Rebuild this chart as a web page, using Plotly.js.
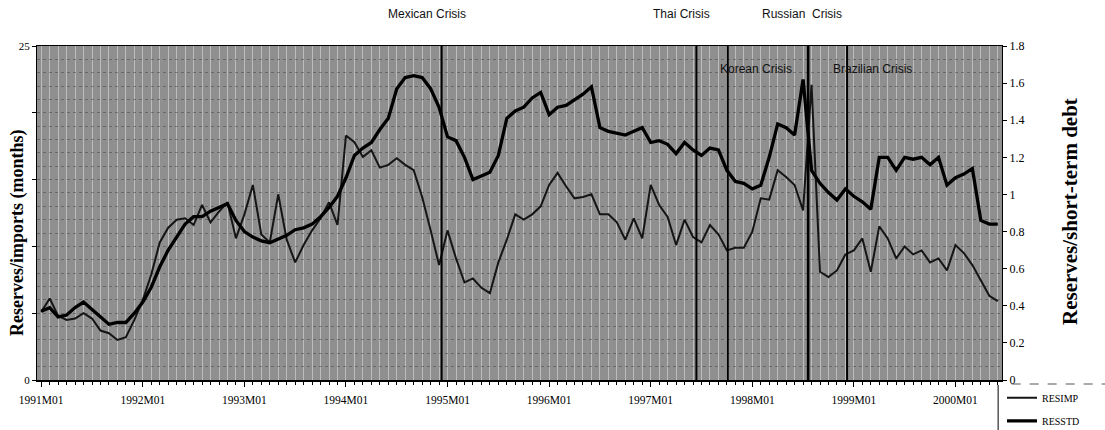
<!DOCTYPE html>
<html>
<head>
<meta charset="utf-8">
<script src="https://cdn.plot.ly/plotly-3.0.1.min.js"></script>
<style>
  html, body { margin: 0; padding: 0; background: #ffffff; }
  #chart { width: 1105px; height: 430px; }
</style>
</head>
<body>
<div id="chart"></div>
<script>
// ---- Data ----
const years = ['1991','1992','1993','1994','1995','1996','1997','1998','1999','2000'];
const monthCodes = ['M01','M02','M03','M04','M05','M06','M07','M08','M09','M10','M11','M12'];

// Reserves / imports (months) – left axis
const resimp = [
  5.1, 6.1, 4.8, 4.5, 4.6, 5.0, 4.6, 3.7, 3.5, 3.0, 3.2, 4.5,
  6.0, 7.9, 10.3, 11.4, 12.0, 12.1, 11.6, 13.1, 11.8, 12.6, 13.3, 10.6,
  12.4, 14.6, 10.9, 10.3, 13.9, 10.5, 8.8, 10.1, 11.2, 12.1, 13.3, 11.6,
  18.3, 17.8, 16.7, 17.2, 15.9, 16.1, 16.6, 16.1, 15.7, 13.7, 11.2, 8.6,
  11.2, 9.1, 7.3, 7.6, 6.9, 6.5, 8.8, 10.5, 12.4, 12.0, 12.4, 13.0,
  14.6, 15.5, 14.5, 13.6, 13.7, 13.9, 12.4, 12.4, 11.8, 10.5, 12.1, 10.6,
  14.6, 13.1, 12.2, 10.1, 12.0, 10.7, 10.3, 11.6, 10.9, 9.7, 9.9, 9.9,
  11.1, 13.6, 13.5, 15.7, 15.2, 14.6, 12.7, 22.1, 8.1, 7.7, 8.2, 9.4,
  9.7, 10.6, 8.1, 11.5, 10.6, 9.1, 10.0, 9.4, 9.7, 8.8, 9.1, 8.2,
  10.1, 9.5, 8.6, 7.4, 6.3, 5.9
];

// Reserves / short-term debt – right axis
const resstd = [
  0.37, 0.39, 0.34, 0.35, 0.39, 0.42, 0.38, 0.34, 0.30, 0.31, 0.31, 0.36,
  0.42, 0.50, 0.61, 0.70, 0.77, 0.84, 0.88, 0.88, 0.91, 0.93, 0.95, 0.86,
  0.80, 0.77, 0.75, 0.74, 0.76, 0.78, 0.81, 0.82, 0.84, 0.88, 0.93, 0.99,
  1.09, 1.21, 1.25, 1.28, 1.35, 1.41, 1.57, 1.63, 1.64, 1.63, 1.57, 1.47,
  1.31, 1.29, 1.20, 1.08, 1.10, 1.12, 1.21, 1.41, 1.45, 1.47, 1.52, 1.55,
  1.43, 1.47, 1.48, 1.51, 1.54, 1.58, 1.36, 1.34, 1.33, 1.32, 1.34, 1.36,
  1.28, 1.29, 1.27, 1.22, 1.28, 1.24, 1.21, 1.25, 1.24, 1.13, 1.07, 1.06,
  1.03, 1.05, 1.20, 1.38, 1.36, 1.32, 1.62, 1.13, 1.06, 1.01, 0.97, 1.03,
  0.99, 0.96, 0.92, 1.20, 1.20, 1.13, 1.20, 1.19, 1.20, 1.16, 1.20, 1.05,
  1.09, 1.11, 1.14, 0.86, 0.84, 0.84
];

// Crisis events (position in months from 1991M01)
const crisisNames = ['Mexican Crisis', 'Thai Crisis', 'Korean Crisis', 'Russian  Crisis', 'Brazilian Crisis'];
const crisisPos   = [47.3, 77.4, 81.1, 90.6, 95.2];

const tickLabels = years.map(y => y + 'M01');

// ---- Build month categories ----
const months = [];
years.forEach(y => monthCodes.forEach(m => months.push(y + m)));
const n = resimp.length;
const xIdx = months.slice(0, n).map((_, i) => i);
const tickVals = tickLabels.map(l => months.indexOf(l));

const serif = 'Liberation Serif, Times New Roman, serif';
const sans = 'Liberation Sans, Arial, sans-serif';

const traces = [
  {
    x: xIdx, y: resimp, name: 'RESIMP', type: 'scatter', mode: 'lines',
    yaxis: 'y', legendgroup: 'a',
    line: { color: '#151515', width: 2 }
  },
  {
    x: xIdx, y: resstd, name: 'RESSTD', type: 'scatter', mode: 'lines',
    yaxis: 'y2', legendgroup: 'b',
    line: { color: '#000000', width: 3.3 }
  }
];

const shapes = crisisPos.map((p, i) => ({
  type: 'line', xref: 'x', yref: 'paper', x0: p, x1: p, y0: 0, y1: 1,
  line: { color: '#000', width: i === 3 ? 2.6 : 2 }
}));
// legend box edges
shapes.push({ type: 'line', xref: 'paper', yref: 'paper', x0: 0.996, x1: 0.996, y0: -0.015, y1: -0.16,
  line: { color: '#000', width: 1 } });
shapes.push({ type: 'line', xref: 'paper', yref: 'paper', x0: 1.01, x1: 1.108, y0: -0.012, y1: -0.012,
  line: { color: '#555', width: 1, dash: 'dash' } });

const labelPos = [
  { x: 45.6, y: 1.096 },
  { x: 75.6, y: 1.096 },
  { x: 84.4, y: 0.93 },
  { x: 89.9, y: 1.096 },
  { x: 98.2, y: 0.93 }
];
const annotations = crisisNames.map((name, i) => ({
  text: name, x: labelPos[i].x, y: labelPos[i].y, xref: 'x', yref: 'paper', showarrow: false,
  xanchor: 'center', yanchor: 'middle',
  font: { family: sans, size: 12, color: '#111' }
}));

annotations.push({
  text: '<b>Reserves/imports (months)</b>', textangle: -90, xref: 'paper', yref: 'paper',
  x: -0.0207, y: 0.44, xanchor: 'center', yanchor: 'middle', showarrow: false,
  font: { family: serif, size: 18, color: '#000' }
});
annotations.push({
  text: '<b>Reserves/short-term debt</b>', textangle: -90, xref: 'paper', yref: 'paper',
  x: 1.0705, y: 0.503, xanchor: 'center', yanchor: 'middle', showarrow: false,
  font: { family: serif, size: 21, color: '#000' }
});

const layout = {
  width: 1105, height: 430,
  margin: { l: 37, r: 103, t: 46, b: 50, autoexpand: false },
  paper_bgcolor: '#ffffff',
  plot_bgcolor: '#8f8f8f',
  showlegend: true,
  legend: {
    x: 1.0, xanchor: 'left', y: -0.01, yanchor: 'top',
    font: { family: serif, size: 10, color: '#000' },
    bgcolor: 'rgba(0,0,0,0)', traceorder: 'grouped', tracegroupgap: 4,
    itemwidth: 30
  },
  xaxis: {
    range: [-0.5, n - 0.5],
    tickmode: 'array', tickvals: tickVals, ticktext: tickLabels,
    ticks: 'outside', ticklen: 5, tickcolor: '#000', ticklabelstandoff: 4,
    tickfont: { family: serif, size: 11.5, color: '#000' },
    showline: true, linecolor: '#000', linewidth: 1.5, mirror: true,
    showgrid: false, zeroline: false,
    minor: { dtick: 1, tick0: 0, ticks: 'outside', ticklen: 3, tickcolor: '#000',
             showgrid: true, gridcolor: 'rgba(255,255,255,0.4)', gridwidth: 1 }
  },
  yaxis: {
    range: [0, 25],
    tickmode: 'array', tickvals: [0, 5, 10, 15, 20, 25], ticktext: ['0', '', '', '', '', '25'],
    ticks: 'outside', ticklen: 4, tickcolor: '#000',
    tickfont: { family: serif, size: 11, color: '#000' },
    showline: true, linecolor: '#000', linewidth: 1,
    showgrid: false, zeroline: false,
    minor: { dtick: 1, tick0: 0, showgrid: true, gridcolor: 'rgba(30,30,30,0.35)',
             griddash: 'dot', gridwidth: 1 }
  },
  yaxis2: {
    range: [0, 1.8], dtick: 0.2, tick0: 0,
    overlaying: 'y', side: 'right',
    ticks: 'outside', ticklen: 4, tickcolor: '#000',
    tickfont: { family: serif, size: 12, color: '#000' },
    showline: true, linecolor: '#000', linewidth: 1,
    showgrid: false, zeroline: false
  },
  shapes: shapes,
  annotations: annotations
};

Plotly.newPlot('chart', traces, layout, { displayModeBar: false, staticPlot: true });
</script>
</body>
</html>
